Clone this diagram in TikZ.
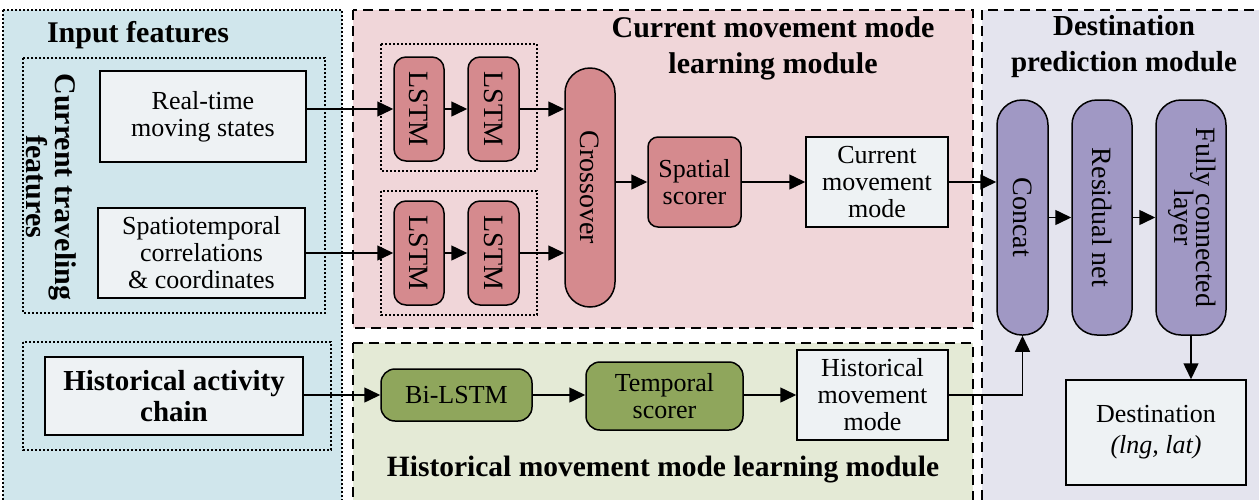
\documentclass[tikz,border=0pt]{standalone}
\usepackage{fontspec}
\setmainfont{Liberation Serif}
\usetikzlibrary{arrows.meta}

\definecolor{bluepanel}{RGB}{208,230,236}
\definecolor{pinkpanel}{RGB}{240,214,217}
\definecolor{greenpanel}{RGB}{228,234,214}
\definecolor{purplepanel}{RGB}{228,228,238}
\definecolor{lstmred}{RGB}{213,138,142}
\definecolor{nodepurple}{RGB}{160,152,196}
\definecolor{nodegreen}{RGB}{143,166,92}
\definecolor{boxfill}{RGB}{238,242,244}

\begin{document}
\begin{tikzpicture}[x=1pt,y=-1pt,
  panel/.style={line width=1.6pt, dash pattern=on 10pt off 6pt},
  dotpanel/.style={line width=1.4pt, dash pattern=on 2pt off 2pt},
  grp/.style={line width=1.3pt, dash pattern=on 2pt off 2pt},
  txt/.style={font=\fontsize{26}{27}\selectfont},
  vtxt/.style={font=\fontsize{28}{27}\selectfont},
  box/.style={draw, line width=1.5pt, fill=boxfill, align=center, inner sep=0pt, txt},
  lstm/.style={draw, line width=1.5pt, fill=lstmred, rounded corners=12pt, inner sep=0pt, vtxt},
  pill/.style={draw, line width=1.5pt, rounded corners=25pt, inner sep=0pt, vtxt},
  gnode/.style={draw, line width=1.5pt, fill=nodegreen, rounded corners=14pt, inner sep=0pt, align=center, txt},
  title/.style={font=\bfseries\fontsize{30}{36}\selectfont, align=center},
  arr/.style={line width=1.5pt, -{Triangle[length=16pt,width=15pt]}}
]
\useasboundingbox (0,0) rectangle (1259,499);
\clip (0,0) rectangle (1259,499);

% module backgrounds
\draw[dotpanel, fill=bluepanel] (3,10) rectangle (342,520);
\draw[panel, fill=pinkpanel] (353,10) rectangle (973,328);
\draw[panel, fill=greenpanel] (353,343) rectangle (973,520);
\draw[panel, fill=purplepanel] (982,10) rectangle (1280,520);

% grouping frames
\draw[grp] (23,58) rectangle (325,313);
\draw[grp] (23,342) rectangle (331,450);
\draw[grp] (381,44) rectangle (537,171);
\draw[grp] (381,191) rectangle (537,315);

% titles
\node[title] (tin) at (138,35) {Input features};
\node[title] (tcur) at (773,48) {Current movement mode\\learning module};
\node[title, font=\bfseries\fontsize{29}{36}\selectfont] (tdst) at (1124,47) {Destination\\prediction module};
\node[title, font=\bfseries\fontsize{29.5}{36}\selectfont] (this) at (663,470) {Historical movement mode learning module};
\node[title, rotate=-90, font=\bfseries\fontsize{30}{29}\selectfont] (tctf) at (51,187) {Current traveling\\features};

% input feature boxes
\node[box, minimum width=206pt, minimum height=91pt] (rt) at (203,116.5) {Real-time\\moving states};
\node[box, minimum width=207pt, minimum height=90pt] (st) at (201.5,253) {Spatiotemporal\\correlations\\\& coordinates};
\node[box, minimum width=258pt, minimum height=78pt, font=\bfseries\fontsize{29}{31}\selectfont] (hac) at (174,396) {Historical activity\\chain};

% current movement mode branch
\node[lstm, minimum width=50pt, minimum height=104pt] (l11) at (419,109) {\rotatebox{-90}{LSTM}};
\node[lstm, minimum width=51pt, minimum height=104pt] (l12) at (493.5,109) {\rotatebox{-90}{LSTM}};
\node[lstm, minimum width=50pt, minimum height=104pt] (l21) at (419,253) {\rotatebox{-90}{LSTM}};
\node[lstm, minimum width=51pt, minimum height=104pt] (l22) at (493.5,253) {\rotatebox{-90}{LSTM}};
\node[pill, fill=lstmred, minimum width=50pt, minimum height=239pt] (cross) at (590,187.5) {\rotatebox{-90}{Crossover}};
\node[lstm, rounded corners=10pt, align=center, txt, minimum width=93pt, minimum height=90pt] (sp) at (694.5,182) {Spatial\\scorer};
\node[box, minimum width=142pt, minimum height=90pt] (cmm) at (877,182) {Current\\movement\\mode};

% historical movement mode branch
\node[gnode, minimum width=151pt, minimum height=52pt] (bi) at (456.5,395) {Bi-LSTM};
\node[gnode, minimum width=157pt, minimum height=68pt] (tmp) at (664.5,396) {Temporal\\scorer};
\node[box, minimum width=151pt, minimum height=90pt] (hmm) at (872.5,395) {Historical\\movement\\mode};

% destination prediction
\node[pill, fill=nodepurple, minimum width=51pt, minimum height=235pt] (cat) at (1022.5,217.5) {\rotatebox{-90}{Concat}};
\node[pill, fill=nodepurple, minimum width=60pt, minimum height=235pt] (res) at (1102,217.5) {\rotatebox{-90}{Residual net}};
\node[pill, fill=nodepurple, minimum width=70pt, minimum height=235pt] (fc) at (1191,217.5) {\rotatebox{-90}{\begin{tabular}{@{}c@{}}Fully connected\\[-5pt]layer\end{tabular}}};
\node[box, minimum width=180pt, minimum height=105pt, font=\fontsize{26}{31}\selectfont] (dst) at (1156,432.5) {Destination\\\textit{(lng, lat)}};

% connectors
\draw[arr] (rt.east |- l11.west) -- (l11.west);
\draw[arr] (st.east |- l21.west) -- (l21.west);
\draw[arr] (l11) -- (l12);
\draw[arr] (l21) -- (l22);
\draw[arr] (l12.east) -- (l12.east -| cross.west);
\draw[arr] (l22.east) -- (l22.east -| cross.west);
\draw[arr] (cross.east |- sp.west) -- (sp.west);
\draw[arr] (sp) -- (cmm);
\draw[arr] (cmm.east) -- (cmm.east -| cat.west);
\draw[arr] (cat) -- (res);
\draw[arr] (res) -- (fc);
\draw[arr] (fc.south) -- (fc.south |- dst.north);
\draw[arr] (hac.east |- bi.west) -- (bi.west);
\draw[arr] (bi.east) -- (bi.east -| tmp.west);
\draw[arr] (tmp.east |- hmm.west) -- (hmm.west);
\draw[arr] (hmm.east) -| (cat.south);
\end{tikzpicture}
\end{document}
